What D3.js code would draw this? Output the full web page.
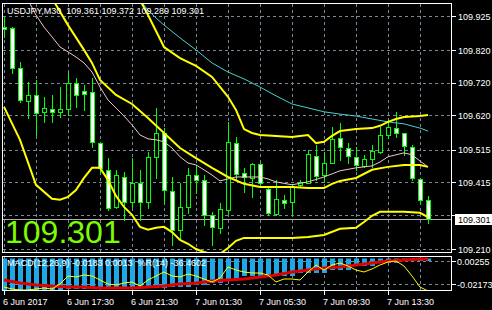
<!DOCTYPE html>
<html>
<head>
<meta charset="utf-8">
<script src="https://cdn.jsdelivr.net/npm/d3@7"></script>
<style>
  body { margin: 0; background: #000; }
  svg { display: block; font-family: "Liberation Sans", Arial, sans-serif; }
</style>
</head>
<body>
<svg width="492" height="310"></svg>
<script>
// USDJPY M30, 54 bars, 6 Jun 13:30 .. 7 Jun 16:00
var opens = [109.891, 109.888, 109.765, 109.664, 109.683, 109.630, 109.640, 109.630, 109.640, 109.719,
  109.695, 109.692, 109.535, 109.453, 109.339, 109.431, 109.355, 109.413, 109.355, 109.492,
  109.566, 109.388, 109.268, 109.339, 109.437, 109.422, 109.315, 109.275, 109.330, 109.535,
  109.443, 109.428, 109.471, 109.394, 109.318, 109.361, 109.355, 109.407, 109.413, 109.496,
  109.437, 109.474, 109.551, 109.520, 109.492, 109.465, 109.486, 109.508, 109.560, 109.581,
  109.566, 109.523, 109.425, 109.361];
var highs = [109.925, 109.891, 109.784, 109.723, 109.729, 109.677, 109.683, 109.707, 109.750, 109.735,
  109.713, 109.735, 109.538, 109.489, 109.453, 109.446, 109.489, 109.453, 109.508, 109.643,
  109.581, 109.431, 109.413, 109.459, 109.468, 109.437, 109.324, 109.351, 109.600, 109.554,
  109.459, 109.474, 109.474, 109.400, 109.422, 109.376, 109.407, 109.422, 109.514, 109.529,
  109.508, 109.585, 109.597, 109.535, 109.523, 109.499, 109.529, 109.585, 109.606, 109.630,
  109.566, 109.529, 109.428, 109.372];
var lows = [109.860, 109.750, 109.661, 109.612, 109.560, 109.600, 109.600, 109.615, 109.621, 109.646,
  109.637, 109.523, 109.443, 109.330, 109.336, 109.299, 109.339, 109.299, 109.336, 109.428,
  109.351, 109.223, 109.244, 109.321, 109.382, 109.284, 109.223, 109.259, 109.321, 109.422,
  109.385, 109.370, 109.400, 109.315, 109.315, 109.336, 109.315, 109.400, 109.413, 109.422,
  109.416, 109.474, 109.483, 109.474, 109.453, 109.462, 109.462, 109.505, 109.551, 109.554,
  109.499, 109.422, 109.351, 109.289];
var closes = [109.885, 109.765, 109.667, 109.683, 109.627, 109.643, 109.630, 109.640, 109.719, 109.683,
  109.686, 109.538, 109.459, 109.336, 109.437, 109.355, 109.413, 109.355, 109.492, 109.566,
  109.391, 109.268, 109.339, 109.437, 109.422, 109.315, 109.277, 109.333, 109.538, 109.440,
  109.431, 109.471, 109.413, 109.321, 109.364, 109.351, 109.404, 109.416, 109.502, 109.434,
  109.474, 109.548, 109.523, 109.496, 109.468, 109.486, 109.511, 109.560, 109.585, 109.566,
  109.526, 109.428, 109.361, 109.301];

// indicator lines, [bar, value]
var upperBand = [[16,110.020],[18,109.928],[20,109.830],[22,109.796],[24,109.772],[26,109.738],[28,109.677],
  [29,109.637],[30,109.578],[31,109.566],[32,109.560],[34,109.557],[36,109.554],[38,109.560],[39,109.535],
  [40,109.539],[41,109.557],[42,109.572],[44,109.578],[46,109.581],[47,109.588],[48,109.600],[49,109.609],
  [50,109.615],[52,109.618],[53,109.621]];
var middleBand = [[6,109.980],[8,109.897],[10,109.821],[11,109.781],[12,109.729],[14,109.683],[16,109.655],
  [18,109.612],[20,109.566],[22,109.520],[24,109.489],[26,109.459],[28,109.431],[30,109.410],[32,109.400],
  [34,109.400],[36,109.400],[38,109.397],[40,109.397],[41,109.410],[42,109.419],[44,109.428],[46,109.453],
  [48,109.462],[50,109.468],[52,109.468],[53,109.462]];
var lowerBand = [[0,109.646],[2,109.545],[4,109.407],[6,109.364],[7,109.361],[8,109.370],[9,109.391],
  [10,109.428],[11,109.459],[12,109.459],[13,109.422],[14,109.373],[15,109.339],[16,109.315],[17,109.278],
  [18,109.269],[19,109.275],[20,109.278],[21,109.262],[22,109.238],[23,109.226],[24,109.210],[25,109.201],
  [26,109.195],[27,109.195],[28,109.213],[29,109.235],[30,109.244],[32,109.244],[34,109.244],[36,109.244],
  [38,109.247],[40,109.253],[42,109.272],[44,109.275],[45,109.293],[46,109.312],[47,109.324],[48,109.324],
  [50,109.324],[52,109.321],[53,109.308]];
var pinkMa = [[3,109.974],[4,109.928],[5,109.891],[6,109.861],[7,109.830],[8,109.815],[9,109.799],
  [10,109.781],[11,109.753],[12,109.707],[13,109.667],[14,109.643],[15,109.618],[16,109.591],[17,109.560],
  [18,109.548],[19,109.545],[20,109.539],[21,109.520],[22,109.493],[23,109.474],[24,109.468],[25,109.453],
  [26,109.437],[27,109.419],[28,109.425],[29,109.431],[30,109.431],[32,109.431],[33,109.425],[34,109.416],
  [36,109.407],[38,109.416],[40,109.431],[42,109.450],[44,109.459],[46,109.465],[47,109.477],[48,109.493],
  [50,109.505],[51,109.499],[52,109.480],[53,109.462]];
var cyanMa = [[17,109.974],[18,109.943],[19,109.919],[20,109.897],[22,109.858],[24,109.821],[26,109.781],
  [28,109.753],[30,109.732],[32,109.707],[34,109.680],[36,109.655],[38,109.643],[40,109.631],[42,109.624],
  [44,109.618],[46,109.609],[48,109.600],[50,109.594],[52,109.581],[53,109.572]];

// subwindow: macd histogram, signal, %R
var macdHist = [-0.0300, -0.0300, -0.0300, -0.0300, -0.0300, -0.0300, -0.0300, -0.0300, -0.0290, -0.0290,
  -0.0290, -0.0290, -0.0290, -0.0290, -0.0290, -0.0290, -0.0290, -0.0281, -0.0281, -0.0281,
  -0.0281, -0.0271, -0.0271, -0.0271, -0.0252, -0.0252, -0.0233, -0.0233, -0.0205, -0.0205,
  -0.0167, -0.0167, -0.0167, -0.0167, -0.0167, -0.0167, -0.0167, -0.0138, -0.0138, -0.0138,
  -0.0138, -0.0110, -0.0110, -0.0110, -0.0071, -0.0071, -0.0071, -0.0043, -0.0043, -0.0043,
  -0.0024, -0.0024, -0.0024, -0.0024];
var macdSignal = [[0,-0.0205],[2,-0.0233],[4,-0.0252],[6,-0.0262],[8,-0.0271],[10,-0.0271],[12,-0.0281],
  [14,-0.0281],[16,-0.0281],[18,-0.0271],[20,-0.0262],[22,-0.0243],[24,-0.0233],[26,-0.0214],[28,-0.0205],
  [30,-0.0195],[32,-0.0176],[34,-0.0157],[36,-0.0129],[38,-0.0110],[40,-0.0090],[42,-0.0081],[44,-0.0062],
  [46,-0.0043],[48,-0.0024],[50,-0.0014],[52,-0.0005],[53,-0.0005]];
var wpr = [-87.9, -93.9, -97.0, -97.0, -93.9, -90.9, -93.9, -78.8, -54.5, -57.6,
  -51.5, -54.5, -66.7, -78.8, -81.8, -75.8, -72.7, -84.8, -66.7, -54.5,
  -42.4, -54.5, -57.6, -48.5, -54.5, -63.6, -72.7, -60.6, -27.3, -36.4,
  -42.4, -45.5, -45.5, -51.5, -72.7, -63.6, -63.6, -66.7, -42.4, -21.2,
  -36.4, -21.2, -15.2, -24.2, -36.4, -42.4, -33.3, -21.2, -12.1, -9.1,
  -24.2, -54.5, -87.9, -100.0];

var priceTicks = [109.925, 109.820, 109.720, 109.620, 109.515, 109.415, 109.315, 109.210];
var priceLabels = [109.925, 109.820, 109.720, 109.620, 109.515, 109.415, 109.210];
var subTicks = [0.00255, -0.02173];
var timeTickBars = [0, 8, 16, 24, 32, 40, 48];
var timeLabels = ["6 Jun 2017", "6 Jun 17:30", "6 Jun 21:30", "7 Jun 01:30", "7 Jun 05:30", "7 Jun 09:30", "7 Jun 13:30"];
var gridBars = [0, 4, 8, 12, 16, 20, 24, 28, 32, 36, 40, 44, 48, 52];
var lastPrice = 109.301;
var title = "USDJPY,M30  109.361 109.372 109.289 109.301";
var subTitle = "MACD(12,26,9) -0.0183 0.0013  %R(14) -36.4602";

var svg = d3.select("svg");
var frame = { left: 3, right: 452, top: 4, bottom: 253, subTop: 257, subBottom: 291 };
var gridColor = "#778899";

var x = d3.scaleLinear().domain([0, 53]).range([4, 428]);
var y = d3.scaleLinear().domain([109.210, 109.925]).range([249, 16]);
var macdY = d3.scaleLinear().domain([-0.030, 0]).range([290, 258.5]);
var subY = d3.scaleLinear().domain([-0.02173, 0.00255]).range([284, 261]);
var wprY = d3.scaleLinear().domain([-100, 0]).range([291, 258]);

svg.append("rect").attr("width", 492).attr("height", 310).attr("fill", "#000");

var defs = svg.append("defs");
defs.append("clipPath").attr("id", "clipMain").append("rect")
  .attr("x", frame.left).attr("y", frame.top)
  .attr("width", frame.right - frame.left).attr("height", frame.bottom - frame.top);
defs.append("clipPath").attr("id", "clipSub").append("rect")
  .attr("x", frame.left).attr("y", frame.subTop)
  .attr("width", frame.right - frame.left).attr("height", frame.subBottom - frame.subTop);

var main = svg.append("g").attr("clip-path", "url(#clipMain)");
var sub = svg.append("g").attr("clip-path", "url(#clipSub)");

function px(v) { return Math.round(v) + 0.5; }

// grid main
main.selectAll(".hgrid").data(priceTicks).enter().append("line")
  .attr("x1", frame.left).attr("x2", frame.right)
  .attr("y1", function (d) { return px(y(d)); }).attr("y2", function (d) { return px(y(d)); })
  .attr("stroke", gridColor).attr("stroke-dasharray", "3,3");
main.selectAll(".vgrid").data(gridBars).enter().append("line")
  .attr("x1", function (d) { return px(x(d)); }).attr("x2", function (d) { return px(x(d)); })
  .attr("y1", frame.top).attr("y2", frame.bottom)
  .attr("stroke", gridColor).attr("stroke-dasharray", "3,3");

// bid line
main.append("line")
  .attr("x1", frame.left).attr("x2", frame.right)
  .attr("y1", px(y(lastPrice))).attr("y2", px(y(lastPrice)))
  .attr("stroke", "#b0b0b0");

// big price
main.append("text")
  .attr("x", 5).attr("y", 243)
  .attr("font-size", 32).attr("fill", "#7cfc00")
  .text(lastPrice.toFixed(3));

// candles
var candles = main.selectAll(".candle").data(opens).enter().append("g");
candles.append("line")
  .attr("x1", function (d, i) { return px(x(i)); }).attr("x2", function (d, i) { return px(x(i)); })
  .attr("y1", function (d, i) { return Math.round(y(highs[i])); })
  .attr("y2", function (d, i) { return Math.round(y(lows[i])) + 1; })
  .attr("stroke", "#00ff00");
candles.append("rect")
  .attr("x", function (d, i) { return Math.round(x(i)) - 2 + 0.5; })
  .attr("width", 4)
  .attr("y", function (d, i) { return Math.round(y(Math.max(d, closes[i]))) + 0.5; })
  .attr("height", function (d, i) {
    return Math.max(1, Math.round(y(Math.min(d, closes[i]))) - Math.round(y(Math.max(d, closes[i]))));
  })
  .attr("fill", function (d, i) { return closes[i] < d ? "#ffffff" : "#000000"; })
  .attr("stroke", "#00ff00");

// indicator lines
var line = d3.line()
  .x(function (d) { return x(d[0]); })
  .y(function (d) { return y(d[1]); });

main.append("path").datum(cyanMa).attr("d", line)
  .attr("fill", "none").attr("stroke", "#48d1cc").attr("stroke-width", 1);
main.append("path").datum(pinkMa).attr("d", line)
  .attr("fill", "none").attr("stroke", "#f0c8c8").attr("stroke-width", 1);
[upperBand, middleBand, lowerBand].forEach(function (band) {
  main.append("path").datum(band).attr("d", line)
    .attr("fill", "none").attr("stroke", "#ffff00").attr("stroke-width", 2);
});

// frames
svg.append("rect")
  .attr("x", frame.left - 0.5).attr("y", frame.top - 0.5)
  .attr("width", frame.right - frame.left).attr("height", frame.bottom - frame.top)
  .attr("fill", "none").attr("stroke", "#fff");
svg.append("rect")
  .attr("x", frame.left - 0.5).attr("y", frame.subTop - 0.5)
  .attr("width", frame.right - frame.left).attr("height", frame.subBottom - frame.subTop)
  .attr("fill", "none").attr("stroke", "#fff");

// title
svg.append("text")
  .attr("x", 7).attr("y", 14)
  .attr("font-size", 9).attr("fill", "#fff")
  .style("white-space", "pre")
  .text(title);

// price axis
var priceAxis = svg.append("g");
priceAxis.selectAll("line").data(priceTicks).enter().append("line")
  .attr("x1", frame.right).attr("x2", frame.right + 4)
  .attr("y1", function (d) { return px(y(d)); }).attr("y2", function (d) { return px(y(d)); })
  .attr("stroke", "#fff");
priceAxis.selectAll("text").data(priceLabels).enter().append("text")
  .attr("x", frame.right + 6)
  .attr("y", function (d) { return y(d) + 3.5; })
  .attr("font-size", 9).attr("fill", "#fff")
  .text(function (d) { return d.toFixed(3); });

// bid label
svg.append("rect")
  .attr("x", frame.right + 3).attr("y", Math.round(y(lastPrice)) - 5)
  .attr("width", 37).attr("height", 11).attr("fill", "#fff");
svg.append("text")
  .attr("x", frame.right + 6).attr("y", y(lastPrice) + 3.5)
  .attr("font-size", 9).attr("fill", "#000")
  .text(lastPrice.toFixed(3));

// subwindow grid
sub.selectAll(".sh").data(subTicks).enter().append("line")
  .attr("x1", frame.left).attr("x2", frame.right)
  .attr("y1", function (d) { return px(subY(d)); }).attr("y2", function (d) { return px(subY(d)); })
  .attr("stroke", gridColor).attr("stroke-dasharray", "3,3");
sub.selectAll(".sv").data(gridBars).enter().append("line")
  .attr("x1", function (d) { return px(x(d)); }).attr("x2", function (d) { return px(x(d)); })
  .attr("y1", frame.subTop).attr("y2", frame.subBottom)
  .attr("stroke", gridColor).attr("stroke-dasharray", "3,3");

// histogram
sub.selectAll(".bar").data(macdHist).enter().append("rect")
  .attr("x", function (d, i) { return Math.round(x(i)) - 2; })
  .attr("width", 5)
  .attr("y", macdY(0))
  .attr("height", function (d) { return macdY(d) - macdY(0); })
  .attr("fill", "#1ea8e6");

sub.append("path").datum(macdSignal)
  .attr("d", d3.line().x(function (d) { return x(d[0]); }).y(function (d) { return macdY(d[1]); }))
  .attr("fill", "none").attr("stroke", "#e00000").attr("stroke-width", 3);

sub.append("path").datum(wpr)
  .attr("d", d3.line().x(function (d, i) { return x(i); }).y(function (d) { return wprY(d); }))
  .attr("fill", "none").attr("stroke", "#ffff00").attr("stroke-width", 1);

svg.append("text")
  .attr("x", 7).attr("y", 266)
  .attr("font-size", 9).attr("fill", "#fff")
  .style("white-space", "pre")
  .text(subTitle);

// sub labels
svg.selectAll(".subtick").data(subTicks).enter().append("line")
  .attr("x1", frame.right).attr("x2", frame.right + 4)
  .attr("y1", function (d) { return px(subY(d)); }).attr("y2", function (d) { return px(subY(d)); })
  .attr("stroke", "#fff");
svg.selectAll(".sublabel").data(subTicks).enter().append("text")
  .attr("x", frame.right + 5)
  .attr("y", function (d) { return subY(d) + 3.5; })
  .attr("font-size", 9).attr("fill", "#fff")
  .text(function (d) { return d.toFixed(5); });

// time axis
svg.selectAll(".ttick").data(timeTickBars).enter().append("line")
  .attr("x1", function (d) { return px(x(d)); }).attr("x2", function (d) { return px(x(d)); })
  .attr("y1", frame.subBottom).attr("y2", frame.subBottom + 4)
  .attr("stroke", "#fff");
svg.selectAll(".tlabel").data(timeTickBars).enter().append("text")
  .attr("x", function (d) { return x(d) - 1; })
  .attr("y", 305)
  .attr("font-size", 9).attr("fill", "#fff")
  .text(function (d, i) { return timeLabels[i]; });
</script>
</body>
</html>
